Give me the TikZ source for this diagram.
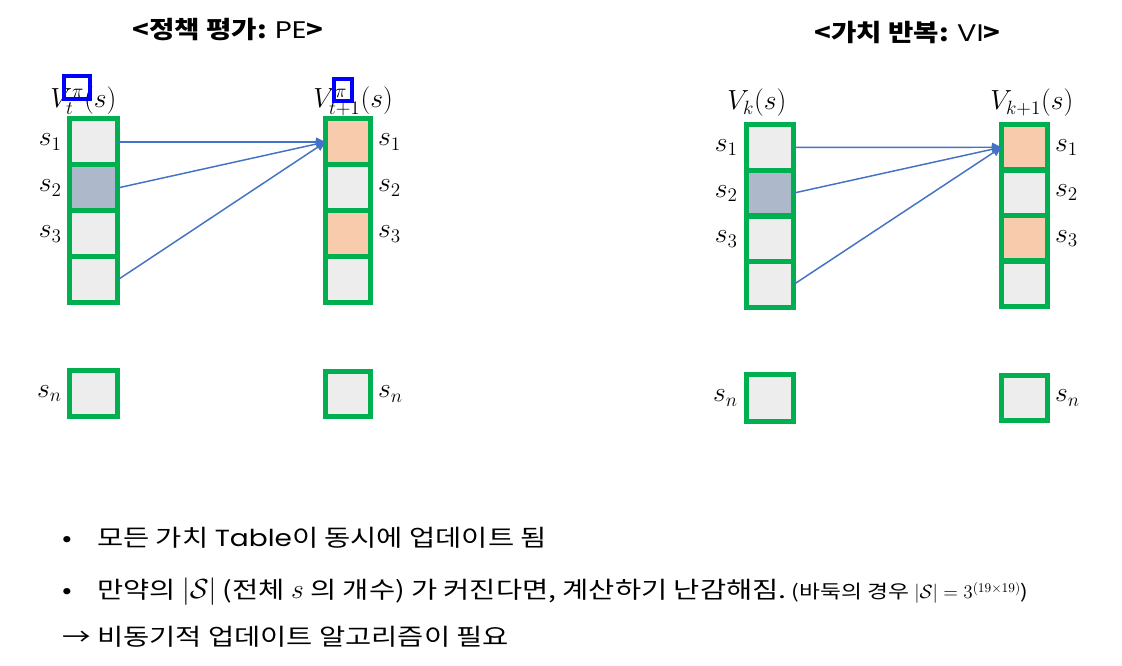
\documentclass[tikz,border=0pt]{standalone}
\usepackage{fontspec}
\setmainfont{Noto Sans CJK KR}[FakeStretch=1.22]
\newfontfamily\titlefont{Noto Sans CJK KR}[FakeStretch=1.15]
\newfontfamily\thinfont{Poppins}[FakeStretch=1.2]
\usetikzlibrary{arrows.meta}
\definecolor{cgreen}{HTML}{00B050}
\definecolor{cgray}{HTML}{EDEDED}
\definecolor{cbluegray}{HTML}{ADB9CA}
\definecolor{corange}{HTML}{F8CBAD}
\definecolor{carrow}{HTML}{4472C4}
\newcommand{\bigmath}[1]{{\fontsize{20}{24}\selectfont$#1$}}
\begin{document}
\begin{tikzpicture}[x=0.75pt,y=-0.75pt,
  cell/.style={rectangle,draw=cgreen,line width=3.75pt,fill=cgray,inner sep=0pt,outer sep=0pt},
  pel/.style={cell,minimum width=36pt,minimum height=34.5pt},
  per/.style={cell,minimum width=33.75pt,minimum height=34.5pt},
  vil/.style={cell,minimum width=35.25pt,minimum height=34.3pt},
  vir/.style={cell,minimum width=34.5pt,minimum height=34.1pt},
  hl/.style={fill=cbluegray},
  upd/.style={fill=corange},
  conn/.style={draw=carrow,line width=1.1pt,-{Triangle[length=7pt,width=6.5pt]}},
  lbl/.style={inner sep=0pt,font=\fontsize{21}{25}\selectfont},
  pibox/.style={draw=blue,line width=2.4pt},
  ttl/.style={inner sep=0pt,font=\titlefont\fontsize{18}{22}\selectfont},
  body/.style={inner sep=0pt,font=\fontsize{17.5}{21}\selectfont}
]
\fill[white] (0,0) rectangle (1122,666);
\useasboundingbox (0,0) rectangle (1122,666);

% titles
\node[ttl,anchor=base] (title1) at (228,39) {\textbf{<정책 평가:} {\thinfont PE}\textbf{>}};
\node[ttl,anchor=base] (title2) at (907.5,42) {\textbf{<가치 반복:} {\thinfont VI}\textbf{>}};

% PE left column
\node[pel] (pa1) at (93.5,142) {};
\node[pel,hl] (pa2) at (93.5,188) {};
\node[pel] (pa3) at (93.5,234) {};
\node[pel] (pa4) at (93.5,280) {};
\node[pel] (pan) at (93.5,393.5) {};
% PE right column
\node[per,upd] (pb1) at (348,142) {};
\node[per] (pb2) at (348,188) {};
\node[per,upd] (pb3) at (348,234) {};
\node[per] (pb4) at (348,280) {};
\node[per,minimum height=33.75pt] (pbn) at (348,394) {};
% VI left column
\node[vil] (va1) at (770,147.4) {};
\node[vil,hl] (va2) at (770,193.1) {};
\node[vil] (va3) at (770,238.9) {};
\node[vil] (va4) at (770,284.6) {};
\node[vil,minimum height=35.25pt] (van) at (770,398) {};
% VI right column
\node[vir,upd] (vb1) at (1024.5,147.25) {};
\node[vir] (vb2) at (1024.5,192.75) {};
\node[vir,upd] (vb3) at (1024.5,238.25) {};
\node[vir] (vb4) at (1024.5,283.75) {};
\node[vir,minimum height=33.75pt] (vbn) at (1024.5,398) {};

% connectors
\draw[conn] (pa1.east) -- (pb1.west);
\draw[conn] (pa2.east) -- (pb1.west);
\draw[conn] (pa4.east) -- (pb1.west);
\draw[conn] (va1.east) -- (vb1.west);
\draw[conn] (va2.east) -- (vb1.west);
\draw[conn] (va4.east) -- (vb1.west);

% column headers
\node[lbl,anchor=base west] (hpa) at (50,108) {$V_t^{\pi}(s)$};
\node[lbl,anchor=base west] (hpb) at (313,108) {$V_{t+1}^{\pi}(s)$};
\node[lbl,anchor=base west] (hva) at (727,110) {$V_k(s)$};
\node[lbl,anchor=base west] (hvb) at (990,110) {$V_{k+1}(s)$};
\coordinate (pib1a) at (64,76);
\coordinate (pib1b) at (90,99);
\coordinate (pib2a) at (334,79);
\coordinate (pib2b) at (352,101);
\draw[pibox] (pib1a) rectangle (pib1b);
\draw[pibox] (pib2a) rectangle (pib2b);

% state labels
\node[lbl,anchor=base east] (lpa1) at ([xshift=-5.6pt,yshift=-3pt]pa1.west) {$s_1$};
\node[lbl,anchor=base east] (lpa2) at ([xshift=-5.6pt,yshift=-3pt]pa2.west) {$s_2$};
\node[lbl,anchor=base east] (lpa3) at ([xshift=-5.6pt,yshift=-3pt]pa3.west) {$s_3$};
\node[lbl,anchor=base east] (lpan) at ([xshift=-5.6pt,yshift=-3pt]pan.west) {$s_n$};
\node[lbl,anchor=base west] (lpb1) at ([xshift=5.6pt,yshift=-3pt]pb1.east) {$s_1$};
\node[lbl,anchor=base west] (lpb2) at ([xshift=5.6pt,yshift=-3pt]pb2.east) {$s_2$};
\node[lbl,anchor=base west] (lpb3) at ([xshift=5.6pt,yshift=-3pt]pb3.east) {$s_3$};
\node[lbl,anchor=base west] (lpbn) at ([xshift=5.6pt,yshift=-3pt]pbn.east) {$s_n$};
\node[lbl,anchor=base east] (lva1) at ([xshift=-6.4pt,yshift=-3pt]va1.west) {$s_1$};
\node[lbl,anchor=base east] (lva2) at ([xshift=-6.4pt,yshift=-3pt]va2.west) {$s_2$};
\node[lbl,anchor=base east] (lva3) at ([xshift=-6.4pt,yshift=-3pt]va3.west) {$s_3$};
\node[lbl,anchor=base east] (lvan) at ([xshift=-6.4pt,yshift=-3pt]van.west) {$s_n$};
\node[lbl,anchor=base west] (lvb1) at ([xshift=5.6pt,yshift=-3pt]vb1.east) {$s_1$};
\node[lbl,anchor=base west] (lvb2) at ([xshift=5.6pt,yshift=-3pt]vb2.east) {$s_2$};
\node[lbl,anchor=base west] (lvb3) at ([xshift=5.6pt,yshift=-3pt]vb3.east) {$s_3$};
\node[lbl,anchor=base west] (lvbn) at ([xshift=5.6pt,yshift=-3pt]vbn.east) {$s_n$};

% bottom text
\node[body,anchor=base] (bul1) at (67,547) {•};
\node[body,anchor=base west] (txt1) at (97,547) {모든 가치 {\thinfont Table}이 동시에 업데이트 됨};
\node[body,anchor=base] (bul2) at (67,599) {•};
\node[body,anchor=base west] (txt2) at (97,599) {만약의 \bigmath{|\mathcal{S}|} (전체 \bigmath{s} 의 개수) 가 커진다면, 계산하기 난감해짐.{\fontsize{14}{17}\selectfont\ (바둑의 경우 $|\mathcal{S}| = 3^{(19\times19)}$)}};
\node[body,anchor=base west] (txt3) at (62,645) {→ 비동기적 업데이트 알고리즘이 필요};
\end{tikzpicture}
\end{document}
